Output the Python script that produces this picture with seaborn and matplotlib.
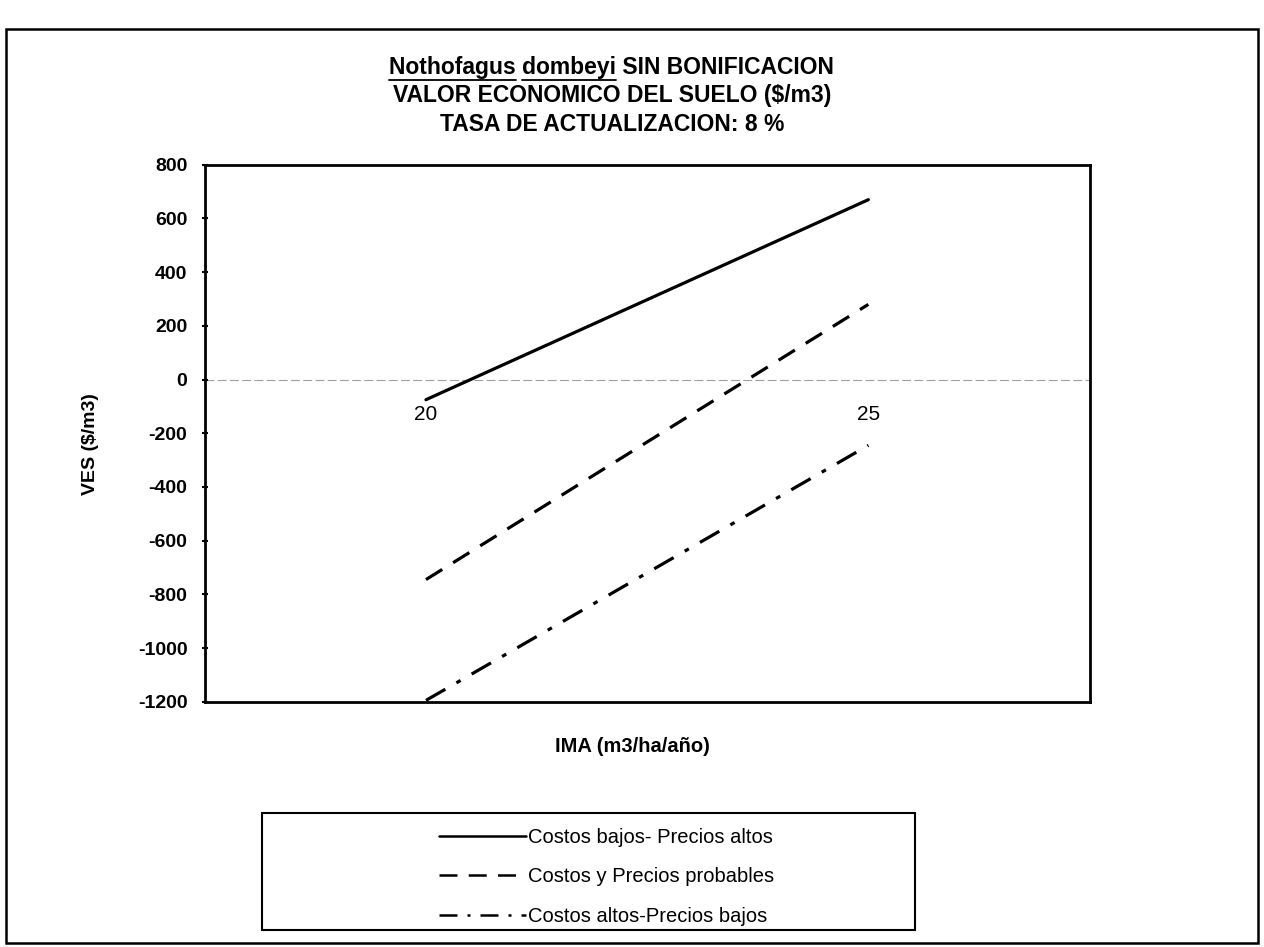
# Gráfico VES vs IMA - Nothofagus dombeyi sin bonificación

import pandas as pd
import seaborn as sns
import matplotlib.pyplot as plt
from matplotlib.patches import Rectangle
from matplotlib.lines import Line2D

#%% datos

ima = ["20", "25"]
costos_bajos = [-75, 670]        # Costos bajos- Precios altos
costos_probables = [-745, 280]   # Costos y Precios probables
costos_altos = [-1195, -245]     # Costos altos-Precios bajos

series = ["Costos bajos- Precios altos", "Costos y Precios probables", "Costos altos-Precios bajos"]
y_ticks = list(range(-1200, 801, 200))

df = pd.DataFrame({
    "IMA": ima * 3,
    "VES": costos_bajos + costos_probables + costos_altos,
    "serie": [series[0]] * 2 + [series[1]] * 2 + [series[2]] * 2,
})

#%% gráfico

sns.set_style("white")
plt.rcParams["font.family"] = ["Liberation Sans", "DejaVu Sans"]
plt.rcParams["text.color"] = "black"
plt.rcParams["axes.labelcolor"] = "black"
plt.rcParams["ytick.color"] = "black"

fig = plt.figure(figsize=(12.64, 9.47), dpi=100)
ax = fig.add_axes([0.162, 0.259, 0.700, 0.567])

estilos = {series[0]: "", series[1]: (6, 4), series[2]: (7, 4, 1.5, 4)}
sns.lineplot(data=df, x="IMA", y="VES", style="serie", dashes=estilos,
             color="black", linewidth=2.3, ax=ax, legend=False)

ax.set_xlim(-0.5, 1.5)
ax.set_ylim(-1200, 800)
ax.set_yticks(y_ticks)
ax.set_yticklabels([str(v) for v in y_ticks], fontsize=14, fontweight="bold")
ax.tick_params(axis="y", direction="inout", length=5, width=1.5, left=True, pad=10)

# eje x cruza en 0, etiquetas debajo de la línea
ax.set_xticks([])
ax.axhline(0, color="#a0a0a0", linewidth=0.8, linestyle=(0, (8, 3)), zorder=0)
for i, lab in enumerate(ima):
    ax.text(i, -95, lab, ha="center", va="top", fontsize=15)

for s in ax.spines.values():
    s.set_linewidth(2.0)
    s.set_color("black")

ax.set_xlabel("")
ax.set_ylabel("VES ($/m3)", fontsize=14, fontweight="bold")
ax.yaxis.set_label_coords(-0.12, 0.48)
fig.text(0.5, 0.212, "IMA (m3/ha/año)", ha="center", va="center", fontsize=14.5, fontweight="bold")

# títulos
t1 = fig.text(0.484, 0.929, "Nothofagus dombeyi SIN BONIFICACION", ha="center", va="center",
              fontsize=16.5, fontweight="bold")
fig.text(0.484, 0.899, "VALOR ECONOMICO DEL SUELO ($/m3)", ha="center", va="center",
         fontsize=16.5, fontweight="bold")
fig.text(0.484, 0.869, "TASA DE ACTUALIZACION: 8 %", ha="center", va="center",
         fontsize=16.5, fontweight="bold")

# subrayado de nombre científico
fig.canvas.draw()
r = fig.canvas.get_renderer()
bb = t1.get_window_extent(r)
def ancho(txt):
    tmp = fig.text(0, 0, txt, fontsize=16.5, fontweight="bold")
    w = tmp.get_window_extent(r).width
    tmp.remove()
    return w
w1 = ancho("Nothofagus")
w2 = ancho("Nothofagus ")
w3 = ancho("Nothofagus dombeyi")
W, H = fig.bbox.width, fig.bbox.height
yu = (bb.y0 - 1) / H
for a, b in [(0, w1), (w2, w3)]:
    fig.add_artist(Line2D([(bb.x0 + a) / W, (bb.x0 + b) / W], [yu, yu],
                          color="black", linewidth=1.3, transform=fig.transFigure))

# leyenda
handles = [Line2D([], [], color="black", linewidth=1.8, linestyle="-"),
           Line2D([], [], color="black", linewidth=1.8, dashes=(7.2, 4.5)),
           Line2D([], [], color="black", linewidth=1.8, dashes=(7.2, 4, 1.2, 4))]
fig.legend(handles, series, loc="center", bbox_to_anchor=(0.48, 0.074), frameon=False,
           fontsize=14.5, handlelength=4.3, handletextpad=0.1, labelspacing=1.0)
fig.add_artist(Rectangle((0.207, 0.018), 0.517, 0.123, transform=fig.transFigure,
                         fill=False, edgecolor="black", linewidth=1.5))

# marco exterior
fig.add_artist(Rectangle((0.005, 0.004), 0.990, 0.965, transform=fig.transFigure,
                         fill=False, edgecolor="black", linewidth=1.8))

fig.savefig("out.png", dpi=100)
